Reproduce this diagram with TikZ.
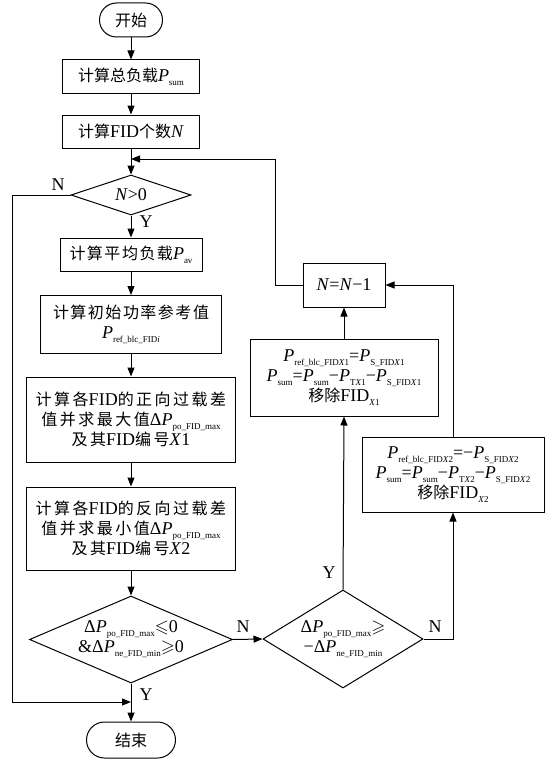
\documentclass[tikz,border=0pt]{standalone}
\usepackage{fontspec}
\usepackage{amssymb}
\setmainfont{Liberation Serif}
\newfontfamily\cjk{Noto Sans CJK SC}
\usetikzlibrary{shapes.geometric,arrows.meta}
\newcommand{\zh}[1]{{\cjk\fontsize{16}{20}\selectfont #1}}
\newcommand{\sbs}[1]{\raisebox{-0.5ex}{\fontsize{9}{9}\selectfont #1}}
\newcommand{\Pv}{\textit{P}}
\newcommand{\g}{\hspace{2.5pt}}
\newcommand{\h}{\hspace{1.5pt}}
\tikzset{
  base/.style={draw, line width=1pt, align=center, inner sep=0pt,
    font=\fontsize{18}{20}\selectfont},
  box/.style={base, rectangle},
  term/.style={base, rectangle},
  dia/.style={base, diamond},
  arr/.style={line width=1pt, -{Triangle[length=9pt,width=7pt]}},
  lab/.style={font=\fontsize{18}{20}\selectfont, inner sep=0pt}
}
\begin{document}
\begin{tikzpicture}[x=1pt,y=-1pt]
\useasboundingbox (0,0) rectangle (545,760);
% main column
\node[term, rounded corners=17pt, minimum width=63pt, minimum height=34pt] (start) at (131,20) {\zh{开始}};
\node[box, minimum width=137pt, minimum height=33pt] (b1) at (131,76.5) {\zh{计算总负载}\Pv\sbs{sum}};
\node[box, minimum width=137pt, minimum height=33pt] (b2) at (131,131.5) {\zh{计算}FID\zh{个数}\textit{N}};
\node[dia, shape aspect=3, minimum width=120pt, minimum height=40pt] (d1) at (131,195) {\textit{N}>0};
\node[box, minimum width=142pt, minimum height=33pt] (avg) at (131,254.5) {\zh{计\h{}算\h{}平\h{}均\h{}负\h{}载}\Pv\sbs{av}};
\node[box, minimum width=181pt, minimum height=58pt] (init) at (131,324.5) {\zh{计\h{}算\h{}初\h{}始\h{}功\h{}率\h{}参\h{}考\h{}值}\\ \Pv\sbs{ref\_blc\_FID\textit{i}}};
\node[box, minimum width=209pt, minimum height=85pt] (pos) at (131,419.5) {\zh{计\g{}算\g{}各}FID\zh{的\g{}正\g{}向\g{}过\g{}载\g{}差}\\ \zh{值\g{}并\g{}求\g{}最\g{}大\g{}值}Δ\Pv\sbs{po\_FID\_max}\\ \zh{及\g{}其}FID\zh{编\g{}号}\textit{X}1};
\node[box, minimum width=209pt, minimum height=83pt] (neg) at (131,528.5) {\zh{计\g{}算\g{}各}FID\zh{的\g{}反\g{}向\g{}过\g{}载\g{}差}\\ \zh{值\g{}并\g{}求\g{}最\g{}小\g{}值}Δ\Pv\sbs{po\_FID\_max}\\ \zh{及\g{}其}FID\zh{编\g{}号}\textit{X}2};
\node[dia, shape aspect=2.33, minimum width=203pt, minimum height=87pt] (d3) at (131,639.5) {Δ\Pv\sbs{po\_FID\_max}$\leqslant$0\\ \&Δ\Pv\sbs{ne\_FID\_min}$\geqslant$0};
\node[term, rounded corners=18pt, minimum width=89pt, minimum height=36pt] (end) at (131,740) {\zh{结束}};
% right part
\node[dia, shape aspect=1.63, minimum width=160pt, minimum height=98pt] (d2) at (343,639) {Δ\Pv\sbs{po\_FID\_max}$\geqslant$\\ −Δ\Pv\sbs{ne\_FID\_min}};
\node[box, minimum width=188pt, minimum height=77pt] (x1) at (344,377.5) {\Pv\sbs{ref\_blc\_FID\textit{X}1}=\Pv\sbs{S\_FID\textit{X}1}\\ \Pv\sbs{sum}=\Pv\sbs{sum}−\Pv\sbs{T\textit{X}1}−\Pv\sbs{S\_FID\textit{X}1}\\ \zh{移除}FID\sbs{\textit{X}1}};
\node[box, minimum width=182pt, minimum height=75pt] (x2) at (453,474.5) {\Pv\sbs{ref\_blc\_FID\textit{X}2}=−\Pv\sbs{S\_FID\textit{X}2}\\ \Pv\sbs{sum}=\Pv\sbs{sum}−\Pv\sbs{T\textit{X}2}−\Pv\sbs{S\_FID\textit{X}2}\\ \zh{移除}FID\sbs{\textit{X}2}};
\node[box, minimum width=82pt, minimum height=44pt] (nn) at (344,285) {\textit{N}=\textit{N}−1};
% coordinates
\coordinate (fb) at (131,159);
\coordinate (jn) at (131,702);
% connectors
\draw[arr] (start) -- (b1);
\draw[arr] (b1) -- (b2);
\draw[arr] (b2) -- (d1);
\draw[arr] (d1) -- (avg);
\draw[arr] (avg) -- (init);
\draw[arr] (init) -- (pos);
\draw[arr] (pos) -- (neg);
\draw[arr] (neg) -- (d3);
\draw[arr] (d3) -- (end);
\draw[arr] (d1.west) -- ++(-58,0) |- (jn);
\draw[arr] (d3.east) -- (d2.west);
\draw[arr] (d2.north) -- (x1.south);
\draw[arr] (d2.east) -| (x2.south);
\draw[arr] (x2.north) |- (nn.east);
\draw[arr] (x1.north) -- (nn.south);
\draw[arr] (nn.west) -- ++(-27,0) |- (fb);
% labels
\node[lab] (lN1) at (58,185) {N};
\node[lab] (lY1) at (146,222) {Y};
\node[lab] (lY3) at (146,695) {Y};
\node[lab] (lN3) at (243,627) {N};
\node[lab] (lY2) at (329,573) {Y};
\node[lab] (lN2) at (435,627) {N};
\end{tikzpicture}
\end{document}
